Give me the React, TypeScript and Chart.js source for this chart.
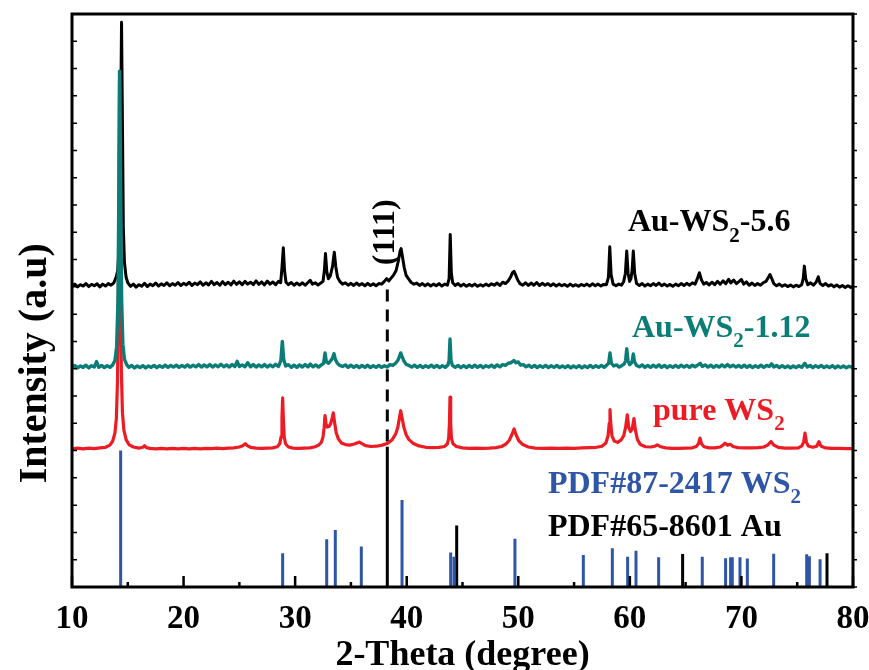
import React, { useEffect, useRef } from "react";
import { Chart, registerables } from "chart.js";

Chart.register(...registerables);

const FONT = '"Liberation Serif", "Times New Roman", Times, serif';

// x axis (2-Theta) ticks
const X_MAJOR_TICKS = [10, 20, 30, 40, 50, 60, 70, 80];
const X_MINOR_TICKS = [15, 25, 35, 45, 55, 65, 75];
const Y_TICKS = [0, 1, 2, 3, 4, 5, 6, 7, 8, 9, 10, 11, 12, 13, 14, 15, 16, 17, 18, 19, 20, 21];

// Au-WS2-5.6 pattern [2theta, intensity]
const AU_WS2_56: [number, number][] = [
  [10.0, 11.02], [10.25, 11.1], [10.5, 11.0], [10.75, 11.08], [11.0, 11.03], [11.25, 11.12], [11.5, 11.01], [11.75, 11.09],
  [12.0, 11.04], [12.25, 11.11], [12.5, 11.0], [12.75, 11.1], [13.0, 11.03], [13.25, 11.12], [13.5, 11.06], [13.75, 11.15],
  [13.95, 11.35], [14.1, 11.6], [14.25, 12.6], [14.35, 16.5], [14.44, 20.7], [14.52, 17.0], [14.6, 13.2], [14.7, 11.9],
  [14.85, 11.35], [15.0, 11.15], [15.25, 11.02], [15.5, 11.1], [15.75, 10.99], [16.0, 11.08], [16.25, 11.02], [16.5, 11.13],
  [16.75, 11.01], [17.0, 11.1], [17.25, 11.04], [17.5, 11.14], [17.75, 11.03], [18.0, 11.11], [18.25, 11.05], [18.5, 11.15],
  [18.75, 11.04], [19.0, 11.12], [19.25, 11.06], [19.5, 11.16], [19.75, 11.05], [20.0, 11.13], [20.25, 11.07], [20.5, 11.17],
  [20.75, 11.05], [21.0, 11.14], [21.25, 11.08], [21.5, 11.18], [21.75, 11.06], [22.0, 11.15], [22.25, 11.07], [22.5, 11.2],
  [22.75, 11.08], [23.0, 11.16], [23.25, 11.06], [23.5, 11.19], [23.75, 11.08], [24.0, 11.17], [24.25, 11.07], [24.5, 11.21],
  [24.75, 11.09], [25.0, 11.18], [25.25, 11.08], [25.5, 11.2], [25.75, 11.1], [26.0, 11.17], [26.25, 11.08], [26.5, 11.22],
  [26.75, 11.09], [27.0, 11.18], [27.25, 11.07], [27.5, 11.21], [27.75, 11.1], [28.0, 11.18], [28.25, 11.08], [28.5, 11.2],
  [28.7, 11.15], [28.82, 11.7], [28.94, 12.43], [29.05, 11.6], [29.18, 11.17], [29.4, 11.08], [29.65, 11.16], [29.9, 11.06],
  [30.15, 11.14], [30.4, 11.07], [30.65, 11.15], [30.9, 11.06], [31.15, 11.16], [31.35, 11.24], [31.55, 11.1], [31.8, 11.15],
  [32.05, 11.07], [32.3, 11.14], [32.5, 11.2], [32.62, 11.6], [32.72, 12.22], [32.84, 11.55], [32.98, 11.3], [33.15, 11.4],
  [33.35, 11.75], [33.51, 12.27], [33.64, 11.75], [33.8, 11.35], [34.0, 11.2], [34.25, 11.1], [34.5, 11.15], [34.75, 11.06],
  [35.0, 11.13], [35.25, 11.05], [35.5, 11.14], [35.75, 11.06], [36.0, 11.12], [36.25, 11.04], [36.5, 11.13], [36.75, 11.05],
  [37.0, 11.11], [37.25, 11.04], [37.5, 11.12], [37.75, 11.1], [38.0, 11.2], [38.2, 11.3], [38.4, 11.22], [38.6, 11.32],
  [38.85, 11.45], [39.05, 11.6], [39.25, 11.95], [39.4, 12.3], [39.5, 12.4], [39.62, 12.1], [39.78, 11.7], [39.95, 11.42],
  [40.15, 11.3], [40.4, 11.16], [40.65, 11.1], [40.9, 11.14], [41.15, 11.05], [41.4, 11.12], [41.65, 11.04], [41.9, 11.11],
  [42.15, 11.03], [42.4, 11.1], [42.65, 11.04], [42.9, 11.12], [43.15, 11.03], [43.4, 11.1], [43.65, 11.06], [43.8, 11.3],
  [43.9, 12.92], [44.0, 11.5], [44.12, 11.15], [44.35, 11.05], [44.6, 11.12], [44.85, 11.03], [45.1, 11.1], [45.35, 11.02],
  [45.6, 11.09], [45.85, 11.03], [46.1, 11.1], [46.35, 11.02], [46.6, 11.08], [46.85, 11.03], [47.1, 11.1], [47.35, 11.04],
  [47.6, 11.11], [47.85, 11.06], [48.1, 11.14], [48.35, 11.05], [48.6, 11.17], [48.85, 11.12], [49.1, 11.22], [49.3, 11.35],
  [49.48, 11.52], [49.62, 11.57], [49.78, 11.42], [49.95, 11.25], [50.15, 11.12], [50.4, 11.06], [50.65, 11.15], [50.9, 11.05],
  [51.15, 11.14], [51.4, 11.06], [51.65, 11.16], [51.9, 11.05], [52.15, 11.13], [52.4, 11.06], [52.65, 11.12], [52.9, 11.04],
  [53.15, 11.11], [53.4, 11.03], [53.65, 11.1], [53.9, 11.04], [54.15, 11.09], [54.4, 11.02], [54.65, 11.1], [54.9, 11.03],
  [55.15, 11.08], [55.4, 11.02], [55.65, 11.09], [55.9, 11.04], [56.15, 11.1], [56.4, 11.03], [56.65, 11.11], [56.9, 11.04],
  [57.15, 11.1], [57.4, 11.03], [57.65, 11.09], [57.9, 11.08], [58.08, 11.35], [58.2, 12.47], [58.32, 11.45], [58.5, 11.1],
  [58.75, 11.04], [59.0, 11.1], [59.25, 11.06], [59.45, 11.2], [59.6, 11.5], [59.72, 12.31], [59.84, 11.5], [59.98, 11.2],
  [60.1, 11.3], [60.2, 11.6], [60.31, 12.31], [60.43, 11.5], [60.6, 11.12], [60.85, 11.05], [61.1, 11.12], [61.35, 11.03],
  [61.6, 11.1], [61.85, 11.04], [62.1, 11.12], [62.35, 11.05], [62.6, 11.14], [62.85, 11.04], [63.1, 11.1], [63.35, 11.03],
  [63.6, 11.09], [63.85, 11.02], [64.1, 11.1], [64.35, 11.04], [64.6, 11.12], [64.85, 11.05], [65.1, 11.13], [65.35, 11.06],
  [65.6, 11.15], [65.85, 11.1], [66.05, 11.3], [66.23, 11.52], [66.42, 11.25], [66.62, 11.1], [66.85, 11.16], [67.1, 11.07],
  [67.35, 11.17], [67.6, 11.08], [67.85, 11.2], [68.1, 11.1], [68.35, 11.22], [68.6, 11.12], [68.85, 11.28], [69.05, 11.14],
  [69.3, 11.25], [69.55, 11.12], [69.8, 11.2], [70.0, 11.27], [70.2, 11.1], [70.45, 11.18], [70.7, 11.06], [70.95, 11.14],
  [71.2, 11.05], [71.45, 11.12], [71.7, 11.06], [71.95, 11.15], [72.2, 11.2], [72.42, 11.35], [72.56, 11.45], [72.72, 11.3],
  [72.9, 11.12], [73.15, 11.04], [73.4, 11.1], [73.65, 11.02], [73.9, 11.08], [74.15, 11.01], [74.4, 11.07], [74.65, 11.0],
  [74.9, 11.06], [75.15, 11.01], [75.4, 11.08], [75.54, 11.3], [75.64, 11.76], [75.76, 11.3], [75.95, 11.08], [76.2, 11.15],
  [76.45, 11.06], [76.7, 11.18], [76.89, 11.37], [77.05, 11.12], [77.3, 11.05], [77.55, 11.12], [77.8, 11.03], [78.05, 11.08],
  [78.3, 11.0], [78.55, 11.07], [78.8, 10.99], [79.05, 11.05], [79.3, 10.98], [79.55, 11.04], [79.8, 10.98], [80.0, 11.02],
];

// Au-WS2-1.12 pattern
const AU_WS2_112: [number, number][] = [
  [10.0, 8.04], [10.25, 8.12], [10.5, 8.03], [10.75, 8.1], [11.0, 8.05], [11.25, 8.13], [11.5, 8.03], [11.75, 8.11],
  [12.0, 8.06], [12.2, 8.26], [12.4, 8.05], [12.65, 8.12], [12.9, 8.04], [13.15, 8.11], [13.4, 8.05], [13.65, 8.14],
  [13.85, 8.3], [14.0, 8.8], [14.12, 10.5], [14.2, 14.5], [14.28, 18.9], [14.36, 14.8], [14.45, 10.5], [14.56, 8.9],
  [14.7, 8.35], [14.9, 8.15], [15.1, 8.05], [15.35, 8.12], [15.6, 8.03], [15.85, 8.1], [16.1, 8.04], [16.35, 8.11],
  [16.6, 8.03], [16.85, 8.1], [17.1, 8.05], [17.35, 8.12], [17.6, 8.04], [17.85, 8.11], [18.1, 8.05], [18.35, 8.13],
  [18.6, 8.05], [18.85, 8.12], [19.1, 8.06], [19.35, 8.13], [19.6, 8.05], [19.85, 8.12], [20.1, 8.06], [20.35, 8.14],
  [20.6, 8.06], [20.85, 8.13], [21.1, 8.07], [21.35, 8.15], [21.6, 8.06], [21.85, 8.14], [22.1, 8.07], [22.35, 8.15],
  [22.6, 8.06], [22.85, 8.14], [23.1, 8.07], [23.35, 8.16], [23.6, 8.07], [23.85, 8.14], [24.1, 8.06], [24.35, 8.15],
  [24.6, 8.08], [24.8, 8.27], [25.0, 8.08], [25.25, 8.14], [25.5, 8.07], [25.75, 8.22], [26.0, 8.07], [26.25, 8.15],
  [26.5, 8.06], [26.75, 8.14], [27.0, 8.07], [27.25, 8.15], [27.5, 8.06], [27.75, 8.14], [28.0, 8.07], [28.25, 8.16],
  [28.5, 8.08], [28.72, 8.3], [28.85, 9.0], [28.97, 8.35], [29.15, 8.1], [29.4, 8.15], [29.65, 8.05], [29.9, 8.13],
  [30.15, 8.05], [30.4, 8.14], [30.65, 8.06], [30.9, 8.15], [31.15, 8.07], [31.35, 8.17], [31.6, 8.07], [31.85, 8.14],
  [32.1, 8.06], [32.35, 8.14], [32.55, 8.2], [32.68, 8.58], [32.8, 8.25], [33.0, 8.2], [33.2, 8.3], [33.35, 8.4],
  [33.48, 8.55], [33.6, 8.35], [33.78, 8.2], [34.0, 8.12], [34.25, 8.08], [34.5, 8.14], [34.75, 8.05], [35.0, 8.13],
  [35.25, 8.05], [35.5, 8.12], [35.75, 8.04], [36.0, 8.12], [36.25, 8.05], [36.5, 8.13], [36.75, 8.04], [37.0, 8.11],
  [37.25, 8.05], [37.5, 8.12], [37.75, 8.05], [38.0, 8.11], [38.25, 8.06], [38.5, 8.15], [38.75, 8.12], [39.0, 8.2],
  [39.2, 8.3], [39.35, 8.45], [39.46, 8.58], [39.58, 8.45], [39.75, 8.28], [39.95, 8.16], [40.2, 8.12], [40.45, 8.06],
  [40.7, 8.13], [40.95, 8.05], [41.2, 8.12], [41.45, 8.04], [41.7, 8.11], [41.95, 8.05], [42.2, 8.13], [42.45, 8.05],
  [42.7, 8.12], [42.95, 8.04], [43.2, 8.11], [43.45, 8.05], [43.7, 8.14], [43.8, 8.3], [43.88, 9.09], [43.97, 8.3],
  [44.1, 8.12], [44.35, 8.05], [44.6, 8.12], [44.85, 8.04], [45.1, 8.11], [45.35, 8.04], [45.6, 8.12], [45.85, 8.05],
  [46.1, 8.13], [46.35, 8.05], [46.6, 8.12], [46.85, 8.04], [47.1, 8.11], [47.35, 8.06], [47.6, 8.13], [47.85, 8.05],
  [48.1, 8.14], [48.35, 8.07], [48.6, 8.15], [48.85, 8.12], [49.1, 8.2], [49.35, 8.22], [49.6, 8.3], [49.8, 8.22],
  [50.0, 8.25], [50.2, 8.13], [50.45, 8.15], [50.7, 8.07], [50.95, 8.13], [51.2, 8.05], [51.45, 8.12], [51.7, 8.04],
  [51.95, 8.11], [52.2, 8.05], [52.45, 8.12], [52.7, 8.04], [52.95, 8.11], [53.2, 8.05], [53.45, 8.12], [53.7, 8.04],
  [53.95, 8.1], [54.2, 8.04], [54.45, 8.11], [54.7, 8.03], [54.95, 8.1], [55.2, 8.04], [55.45, 8.11], [55.7, 8.03],
  [55.95, 8.1], [56.2, 8.04], [56.45, 8.12], [56.7, 8.04], [56.95, 8.11], [57.2, 8.05], [57.45, 8.12], [57.7, 8.05],
  [57.95, 8.14], [58.1, 8.2], [58.22, 8.58], [58.34, 8.2], [58.55, 8.1], [58.8, 8.14], [59.05, 8.06], [59.3, 8.12],
  [59.5, 8.18], [59.62, 8.3], [59.72, 8.73], [59.83, 8.3], [59.98, 8.15], [60.12, 8.2], [60.22, 8.3], [60.31, 8.54],
  [60.42, 8.25], [60.6, 8.12], [60.85, 8.07], [61.1, 8.14], [61.35, 8.05], [61.6, 8.12], [61.85, 8.05], [62.1, 8.13],
  [62.35, 8.06], [62.6, 8.14], [62.85, 8.05], [63.1, 8.12], [63.35, 8.04], [63.6, 8.11], [63.85, 8.05], [64.1, 8.12],
  [64.35, 8.05], [64.6, 8.13], [64.85, 8.06], [65.1, 8.12], [65.35, 8.05], [65.6, 8.13], [65.85, 8.07], [66.1, 8.14],
  [66.3, 8.2], [66.5, 8.08], [66.75, 8.14], [67.0, 8.06], [67.25, 8.13], [67.5, 8.05], [67.75, 8.12], [68.0, 8.06],
  [68.25, 8.14], [68.5, 8.07], [68.75, 8.15], [69.0, 8.07], [69.25, 8.13], [69.5, 8.06], [69.75, 8.12], [70.0, 8.05],
  [70.25, 8.13], [70.5, 8.05], [70.75, 8.12], [71.0, 8.04], [71.25, 8.11], [71.5, 8.05], [71.75, 8.13], [72.0, 8.05],
  [72.25, 8.12], [72.5, 8.08], [72.7, 8.18], [72.9, 8.06], [73.15, 8.12], [73.4, 8.04], [73.65, 8.11], [73.9, 8.04],
  [74.15, 8.1], [74.4, 8.03], [74.65, 8.1], [74.9, 8.04], [75.15, 8.11], [75.4, 8.05], [75.68, 8.2], [75.9, 8.06],
  [76.15, 8.12], [76.4, 8.04], [76.65, 8.11], [76.9, 8.05], [77.15, 8.12], [77.4, 8.04], [77.65, 8.1], [77.9, 8.04],
  [78.15, 8.11], [78.4, 8.03], [78.65, 8.1], [78.9, 8.04], [79.15, 8.1], [79.4, 8.03], [79.65, 8.09], [80.0, 8.04],
];

// pure WS2 pattern
const PURE_WS2: [number, number][] = [
  [10.0, 5.06], [10.5, 5.09], [11.0, 5.06], [11.5, 5.09], [12.0, 5.07], [12.5, 5.1], [13.0, 5.12], [13.4, 5.2],
  [13.65, 5.35], [13.85, 5.65], [13.98, 6.2], [14.08, 7.6], [14.16, 11.0], [14.25, 18.9], [14.33, 12.0], [14.42, 8.0],
  [14.52, 6.4], [14.65, 5.75], [14.85, 5.4], [15.1, 5.22], [15.5, 5.13], [16.0, 5.09], [16.35, 5.12], [16.5, 5.18],
  [16.65, 5.11], [17.0, 5.08], [17.5, 5.06], [18.0, 5.08], [18.5, 5.06], [19.0, 5.08], [19.5, 5.06], [20.0, 5.08],
  [20.5, 5.06], [21.0, 5.08], [21.5, 5.06], [22.0, 5.08], [22.5, 5.07], [23.0, 5.09], [23.5, 5.07], [24.0, 5.09],
  [24.5, 5.1], [25.0, 5.13], [25.3, 5.18], [25.53, 5.25], [25.75, 5.17], [26.0, 5.12], [26.5, 5.09], [27.0, 5.08],
  [27.5, 5.09], [28.0, 5.1], [28.4, 5.14], [28.62, 5.25], [28.74, 5.5], [28.82, 6.2], [28.88, 6.93], [28.94, 6.2],
  [29.02, 5.5], [29.14, 5.25], [29.4, 5.13], [29.8, 5.09], [30.3, 5.08], [30.8, 5.09], [31.3, 5.1], [31.8, 5.14],
  [32.1, 5.2], [32.35, 5.3], [32.5, 5.5], [32.6, 5.85], [32.68, 6.28], [32.77, 5.98], [32.88, 5.86], [33.02, 5.88],
  [33.18, 5.98], [33.32, 6.2], [33.42, 6.38], [33.53, 6.05], [33.68, 5.65], [33.88, 5.42], [34.15, 5.28], [34.5, 5.22],
  [34.9, 5.2], [35.3, 5.24], [35.6, 5.29], [35.75, 5.31], [35.95, 5.26], [36.3, 5.18], [36.8, 5.15], [37.3, 5.16],
  [37.8, 5.2], [38.3, 5.27], [38.7, 5.4], [39.0, 5.6], [39.2, 5.85], [39.35, 6.2], [39.46, 6.46], [39.58, 6.2],
  [39.75, 5.85], [39.95, 5.58], [40.2, 5.4], [40.6, 5.26], [41.1, 5.17], [41.7, 5.12], [42.3, 5.11], [42.9, 5.12],
  [43.4, 5.15], [43.65, 5.25], [43.76, 5.45], [43.83, 6.0], [43.88, 6.96], [43.94, 6.0], [44.01, 5.45], [44.15, 5.25],
  [44.45, 5.15], [45.0, 5.1], [45.6, 5.08], [46.2, 5.09], [46.8, 5.08], [47.4, 5.09], [48.0, 5.11], [48.5, 5.15],
  [48.9, 5.24], [49.2, 5.38], [49.42, 5.58], [49.62, 5.79], [49.8, 5.58], [50.05, 5.36], [50.4, 5.22], [50.9, 5.13],
  [51.5, 5.09], [52.2, 5.08], [52.9, 5.09], [53.6, 5.08], [54.3, 5.09], [55.0, 5.08], [55.7, 5.1], [56.4, 5.11],
  [57.0, 5.12], [57.5, 5.16], [57.85, 5.28], [58.05, 5.55], [58.15, 6.0], [58.22, 6.5], [58.29, 6.0], [58.39, 5.55],
  [58.6, 5.35], [58.9, 5.3], [59.2, 5.38], [59.45, 5.55], [59.62, 5.85], [59.77, 6.31], [59.9, 5.85], [60.05, 5.7],
  [60.2, 5.78], [60.37, 6.17], [60.5, 5.75], [60.68, 5.4], [60.95, 5.22], [61.4, 5.14], [61.9, 5.13], [62.25, 5.16],
  [62.46, 5.21], [62.7, 5.15], [63.2, 5.1], [63.8, 5.08], [64.4, 5.08], [65.0, 5.09], [65.6, 5.1], [65.95, 5.15],
  [66.15, 5.25], [66.29, 5.46], [66.42, 5.25], [66.65, 5.14], [67.1, 5.1], [67.6, 5.1], [68.1, 5.13], [68.35, 5.2],
  [68.53, 5.27], [68.75, 5.2], [69.0, 5.23], [69.25, 5.15], [69.7, 5.11], [70.3, 5.1], [70.9, 5.1], [71.5, 5.11],
  [72.0, 5.13], [72.35, 5.2], [72.65, 5.33], [72.9, 5.2], [73.3, 5.12], [73.9, 5.09], [74.5, 5.09], [75.1, 5.1],
  [75.42, 5.17], [75.58, 5.32], [75.7, 5.64], [75.82, 5.32], [75.98, 5.17], [76.4, 5.12], [76.75, 5.16], [76.95, 5.33],
  [77.12, 5.17], [77.5, 5.1], [78.1, 5.08], [78.8, 5.08], [79.4, 5.07], [80.0, 5.07],
];

// Reference card PDF#87-2417 WS2 (stick positions and heights)
const WS2_PDF_THETA = [14.36, 28.88, 32.83, 33.6, 35.93, 39.58, 43.94, 44.24, 49.7, 55.83, 58.43, 59.8, 60.55, 62.58, 66.49, 68.58, 69.03, 69.18, 69.87, 70.53, 72.89, 75.85, 76.09, 77.05];
const WS2_PDF_INT = [5.0, 1.24, 1.75, 2.09, 1.48, 3.19, 1.26, 1.11, 1.77, 1.17, 1.42, 1.11, 1.33, 1.09, 1.11, 1.05, 1.09, 1.09, 1.09, 1.04, 1.22, 1.2, 1.13, 1.02];

// Reference card PDF#65-8601 Au
const AU_PDF_THETA = [38.26, 44.48, 64.73, 77.67];
const AU_PDF_INT = [5.14, 2.25, 1.21, 1.24];

// Au (111) guide line
const AU111_THETA = 38.26;
const AU111_RANGE = [10.9, 5.14];

const COLOR_BLACK = "#000000";
const COLOR_TEAL = "#0b7d76";
const COLOR_RED = "#ec1c24";
const COLOR_BLUE = "#2f56a6";

type Seg = { t: string; sub?: boolean };

function drawRich(ctx: CanvasRenderingContext2D, segs: Seg[], x0: number, base: number, size: number, color: string) {
  let x = x0;
  ctx.fillStyle = color;
  ctx.textAlign = "left";
  ctx.textBaseline = "alphabetic";
  for (const s of segs) {
    if (s.sub) {
      ctx.font = `bold ${Math.round(size * 0.66)}px ${FONT}`;
      ctx.fillText(s.t, x, base + size * 0.33);
    } else {
      ctx.font = `bold ${size}px ${FONT}`;
      ctx.fillText(s.t, x, base);
    }
    x += ctx.measureText(s.t).width;
  }
}

export default function App() {
  const ref = useRef<HTMLCanvasElement>(null);

  useEffect(() => {
    if (!ref.current) return;
    const toPts = (arr: [number, number][]) => arr.map(([x, y]) => ({ x, y }));
    const sticks = (t: number[], h: number[]) =>
      t.flatMap((x, i) => [{ x, y: 0 }, { x, y: h[i] }, { x, y: null as any }]);

    const decor = {
      id: "decor",
      afterDraw(chart: any) {
        const { ctx, chartArea: a, scales } = chart;
        const xs = scales.x;
        const ys = scales.y;
        ctx.save();
        // frame
        ctx.strokeStyle = "#000";
        ctx.lineWidth = 3;
        ctx.strokeRect(a.left, a.top, a.right - a.left, a.bottom - a.top);
        // ticks
        ctx.lineWidth = 2.5;
        ctx.beginPath();
        for (const v of X_MAJOR_TICKS) {
          const px = xs.getPixelForValue(v);
          ctx.moveTo(px, a.bottom);
          ctx.lineTo(px, a.bottom - 11);
        }
        for (const v of X_MINOR_TICKS) {
          const px = xs.getPixelForValue(v);
          ctx.moveTo(px, a.bottom);
          ctx.lineTo(px, a.bottom - 5);
        }
        ctx.stroke();
        ctx.lineWidth = 1.5;
        ctx.beginPath();
        for (const v of Y_TICKS) {
          const py = ys.getPixelForValue(v);
          ctx.moveTo(a.left, py);
          ctx.lineTo(a.left + 5, py);
          ctx.moveTo(a.right, py);
          ctx.lineTo(a.right + 4, py);
        }
        ctx.stroke();
        // tick labels
        ctx.fillStyle = "#000";
        ctx.font = `bold 33px ${FONT}`;
        ctx.textAlign = "center";
        ctx.textBaseline = "alphabetic";
        for (const v of X_MAJOR_TICKS) {
          ctx.fillText(String(v), xs.getPixelForValue(v), a.bottom + 41);
        }
        // axis titles
        ctx.font = `bold 36px ${FONT}`;
        ctx.fillText("2-Theta (degree)", (a.left + a.right) / 2, a.bottom + 78);
        ctx.save();
        ctx.translate(a.left - 26, ys.getPixelForValue(8.2));
        ctx.rotate(-Math.PI / 2);
        ctx.font = `bold 40px ${FONT}`;
        ctx.textAlign = "center";
        ctx.fillText("Intensity (a.u)", 0, 0);
        ctx.restore();
        // (111)
        ctx.save();
        ctx.translate(xs.getPixelForValue(38.14), ys.getPixelForValue(13.0));
        ctx.rotate(-Math.PI / 2);
        ctx.font = `bold 32px ${FONT}`;
        ctx.textAlign = "center";
        ctx.textBaseline = "middle";
        ctx.fillText("(111)", 0, 0);
        ctx.restore();
        // series labels
        drawRich(ctx, [{ t: "Au-WS" }, { t: "2", sub: true }, { t: "-5.6" }], xs.getPixelForValue(59.83), ys.getPixelForValue(13.03), 32, COLOR_BLACK);
        drawRich(ctx, [{ t: "Au-WS" }, { t: "2", sub: true }, { t: "-1.12" }], xs.getPixelForValue(60.19), ys.getPixelForValue(9.18), 32, COLOR_TEAL);
        drawRich(ctx, [{ t: "pure WS" }, { t: "2", sub: true }], xs.getPixelForValue(62.07), ys.getPixelForValue(6.13), 32, COLOR_RED);
        drawRich(ctx, [{ t: "PDF#87-2417 WS" }, { t: "2", sub: true }], xs.getPixelForValue(52.66), ys.getPixelForValue(3.45), 32, COLOR_BLUE);
        drawRich(ctx, [{ t: "PDF#65-8601 Au" }], xs.getPixelForValue(52.66), ys.getPixelForValue(1.87), 32, COLOR_BLACK);
        ctx.restore();
      },
    };

    const line = (data: any[], color: string, width: number, order: number, extra: any = {}) => ({
      data,
      borderColor: color,
      backgroundColor: color,
      borderWidth: width,
      pointRadius: 0,
      tension: 0,
      fill: false,
      spanGaps: false,
      order,
      ...extra,
    });

    const chart = new Chart(ref.current, {
      type: "line",
      data: {
        datasets: [
          line(toPts(AU_WS2_112), COLOR_TEAL, 3.4, 0, { label: "Au-WS2-1.12", borderJoinStyle: "round" }),
          line(toPts(AU_WS2_56), COLOR_BLACK, 3, 1, { label: "Au-WS2-5.6", borderJoinStyle: "round" }),
          line(toPts(PURE_WS2), COLOR_RED, 3.2, 2, { label: "pure WS2", borderJoinStyle: "round" }),
          line(sticks(WS2_PDF_THETA, WS2_PDF_INT), COLOR_BLUE, 3, 3, { label: "PDF#87-2417 WS2", borderCapStyle: "butt" }),
          line(sticks(AU_PDF_THETA, AU_PDF_INT), COLOR_BLACK, 3, 3, { label: "PDF#65-8601 Au", borderCapStyle: "butt" }),
          line(
            [{ x: AU111_THETA, y: AU111_RANGE[0] }, { x: AU111_THETA, y: AU111_RANGE[1] }],
            COLOR_BLACK,
            3,
            4,
            { label: "Au (111)", borderDash: [12, 8], borderCapStyle: "butt" }
          ),
        ],
      },
      options: {
        responsive: false,
        animation: false,
        devicePixelRatio: 1,
        layout: { padding: { left: 72, right: 16, top: 14, bottom: 83 } },
        scales: {
          x: { type: "linear", min: 10, max: 80, display: false },
          y: { type: "linear", min: 0, max: 21, display: false },
        },
        plugins: {
          legend: { display: false },
          tooltip: { enabled: false },
        },
      },
      plugins: [decor],
    } as any);

    return () => chart.destroy();
  }, []);

  return (
    <div style={{ position: "fixed", left: 0, top: 0, width: 869, height: 670, background: "#fff" }}>
      <canvas ref={ref} width={869} height={670} style={{ width: 869, height: 670, display: "block" }} />
    </div>
  );
}
